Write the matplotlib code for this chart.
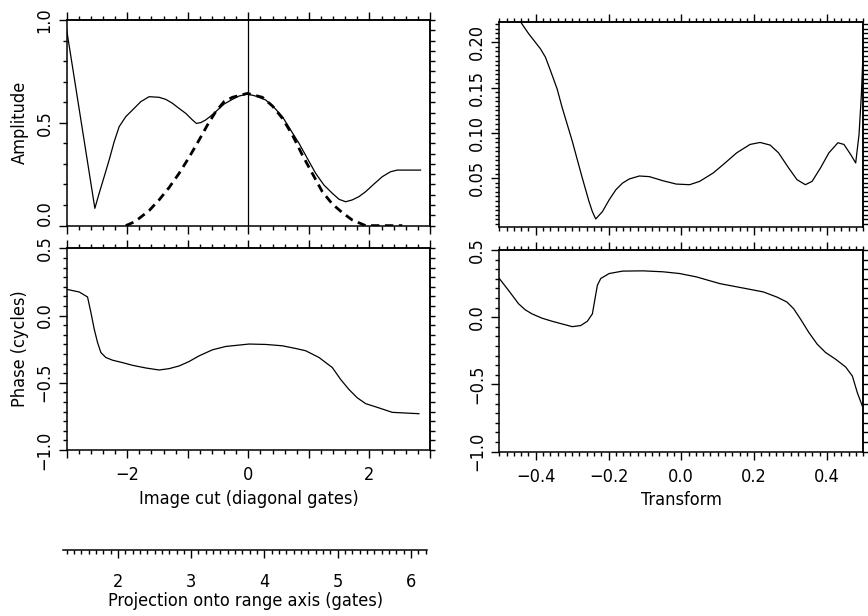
import numpy as np
import matplotlib
matplotlib.use("Agg")
import matplotlib.pyplot as plt
from matplotlib import font_manager
from matplotlib.ticker import MultipleLocator, FixedLocator, NullFormatter

# pick a narrow sans if one is installed (the original uses a condensed face)
_fonts = font_manager.fontManager.ttflist
_names = {f.name for f in _fonts}
if 'Liberation Sans Narrow' in _names:
    plt.rcParams['font.family'] = ['Liberation Sans Narrow', 'DejaVu Sans']
elif any(f.name == 'DejaVu Sans' and 'condensed' in str(f.stretch) for f in _fonts):
    plt.rcParams['font.family'] = ['DejaVu Sans']
    plt.rcParams['font.stretch'] = 'condensed'
elif 'Roboto' in _names:
    plt.rcParams['font.family'] = ['Roboto', 'DejaVu Sans']
    plt.rcParams['font.weight'] = 'medium'
plt.rcParams['font.size'] = 13

# === Image cut: amplitude (solid) ===
cut_x = [-3.0, -2.535, -2.464, -2.381, -2.299, -2.216, -2.134, -2.024, -1.914, -1.776,
         -1.639, -1.474, -1.364, -1.254, -1.144, -1.034, -0.924, -0.858, -0.786, -0.704,
         -0.621, -0.539, -0.401, -0.264, -0.154, -0.016, 0.122, 0.287, 0.424, 0.562,
         0.699, 0.837, 0.974, 1.112, 1.249, 1.387, 1.497, 1.607, 1.717, 1.827, 1.937,
         2.074, 2.212, 2.349, 2.459, 2.844]
cut_amp = [0.951, 0.084, 0.157, 0.238, 0.319, 0.408, 0.481, 0.530, 0.562, 0.603,
           0.627, 0.624, 0.614, 0.595, 0.570, 0.546, 0.514, 0.497, 0.501, 0.514,
           0.533, 0.554, 0.591, 0.614, 0.630, 0.640, 0.630, 0.611, 0.575, 0.530,
           0.465, 0.400, 0.327, 0.254, 0.197, 0.157, 0.128, 0.116, 0.125, 0.141, 0.165,
           0.202, 0.238, 0.262, 0.270, 0.270]

# === Image cut: reference lobe (dashed) ===
ref_x = [-2.024, -1.914, -1.804, -1.639, -1.474, -1.309, -1.144, -0.979, -0.814, -0.676,
         -0.539, -0.401, -0.264, -0.016, 0.232, 0.397, 0.562, 0.727, 0.892, 1.056,
         1.221, 1.387, 1.552, 1.717, 1.937, 2.542]
ref_amp = [0.0, 0.014, 0.035, 0.073, 0.125, 0.185, 0.254, 0.332, 0.416, 0.489,
           0.554, 0.603, 0.624, 0.643, 0.624, 0.582, 0.522, 0.441, 0.343, 0.254,
           0.165, 0.105, 0.063, 0.027, 0.0, 0.0]

# === Image cut: phase (cycles) ===
phase_x = [-3.0, -2.793, -2.656, -2.601, -2.546, -2.491, -2.436, -2.354, -2.244, -2.079,
           -1.914, -1.694, -1.474, -1.309, -1.144, -0.979, -0.814, -0.594, -0.374, 0.012,
           0.287, 0.562, 0.782, 0.947, 1.167, 1.387, 1.524, 1.662, 1.799, 1.937,
           2.157, 2.377, 2.817]
phase_y = [0.195, 0.175, 0.138, 0.025, -0.100, -0.200, -0.275, -0.312, -0.332, -0.350,
           -0.370, -0.390, -0.405, -0.395, -0.375, -0.342, -0.300, -0.255, -0.230, -0.212,
           -0.215, -0.225, -0.245, -0.262, -0.312, -0.387, -0.475, -0.550, -0.612, -0.655,
           -0.687, -0.720, -0.730]

# === Transform: amplitude ===
tr_x = [-0.50, -0.4397, -0.4194, -0.3871, -0.3733, -0.3594, -0.341, -0.3273, -0.3134,
        -0.2996, -0.2858, -0.272, -0.2535, -0.2443, -0.2351, -0.2167, -0.1982, -0.1798,
        -0.1614, -0.1429, -0.1153, -0.0876, -0.0508, -0.0139, 0.0229, 0.0506, 0.0875,
        0.1151, 0.152, 0.1888, 0.2165, 0.2442, 0.2672, 0.2948, 0.3179, 0.3409, 0.3593,
        0.3824, 0.4054, 0.4303, 0.4469, 0.4653, 0.4791, 0.4883, 0.4948, 0.50]
tr_amp = [0.262, 0.2215, 0.2096, 0.193, 0.1837, 0.1689, 0.1485, 0.1281, 0.1096,
          0.0911, 0.0707, 0.0504, 0.0244, 0.0133, 0.0052, 0.0133, 0.0263, 0.0374,
          0.0448, 0.0493, 0.0526, 0.0519, 0.0474, 0.0437, 0.043, 0.0467, 0.0559,
          0.0652, 0.0781, 0.0874, 0.0896, 0.0867, 0.0781, 0.0615, 0.0485, 0.043, 0.0467,
          0.0615, 0.0781, 0.0893, 0.0874, 0.0763, 0.067, 0.0985, 0.143, 0.1948]

# === Transform: phase (cycles) ===
trp_x = [-0.50, -0.4747, -0.447, -0.4286, -0.4102, -0.3826, -0.3549, -0.3273, -0.2996,
         -0.2766, -0.2581, -0.2443, -0.2379, -0.2305, -0.2213, -0.1982, -0.1614, -0.106,
         -0.0508, -0.0047, 0.0414, 0.1059, 0.1797, 0.2257, 0.2626, 0.2902, 0.3087,
         0.3271, 0.3501, 0.3732, 0.3962, 0.4238, 0.4515, 0.4699, 0.4837, 0.4976]
trp_y = [0.288, 0.200, 0.100, 0.055, 0.025, -0.007, -0.030, -0.050, -0.070,
         -0.062, -0.030, 0.025, 0.125, 0.238, 0.288, 0.325, 0.343, 0.345,
         0.338, 0.325, 0.300, 0.250, 0.212, 0.188, 0.150, 0.113, 0.063,
         -0.012, -0.112, -0.200, -0.262, -0.312, -0.370, -0.437, -0.562, -0.662]

W, H = 868, 616
MAJ_LEN, MIN_LEN = 5.5, 3.0
LINE = dict(color='black', lw=0.9)


def frac(x0, y_top, x1, y_bot):
    """Pixel box -> figure fraction rect."""
    return [x0 / W, 1 - y_bot / H, (x1 - x0) / W, (y_bot - y_top) / H]


def style_axes(ax, x_major, x_minor, y_major, y_minor, y_right, x_labels=True):
    for sp in ax.spines.values():
        sp.set_linewidth(1.1)
    ax.xaxis.set_major_locator(MultipleLocator(x_major))
    ax.xaxis.set_minor_locator(MultipleLocator(x_minor))
    ax.yaxis.set_major_locator(FixedLocator(y_major))
    ax.yaxis.set_minor_locator(FixedLocator(y_minor))
    ax.tick_params(which='both', direction='out', width=1.0, top=False, right=False)
    ax.tick_params(which='major', length=MAJ_LEN)
    ax.tick_params(which='minor', length=MIN_LEN)
    ax.tick_params(axis='y', pad=4)
    ax.tick_params(axis='x', pad=6)
    if not x_labels:
        ax.xaxis.set_major_formatter(NullFormatter())
    # ticks along the top spine
    top = ax.secondary_xaxis('top')
    top.xaxis.set_major_locator(MultipleLocator(x_major))
    top.xaxis.set_minor_locator(MultipleLocator(x_minor))
    top.xaxis.set_major_formatter(NullFormatter())
    top.tick_params(which='both', direction='out', width=1.0)
    top.tick_params(which='major', length=MAJ_LEN)
    top.tick_params(which='minor', length=MIN_LEN)
    top.spines['top'].set_linewidth(1.1)
    # ticks along the right spine (own spacing)
    right = ax.secondary_yaxis('right')
    right.yaxis.set_major_locator(FixedLocator(y_right))
    right.yaxis.set_major_formatter(NullFormatter())
    right.tick_params(which='both', direction='out', width=1.0, length=MIN_LEN + 0.5)
    right.spines['right'].set_linewidth(1.1)


def y_labels(ax, ticks, texts, bottom_aligned=()):
    ax.set_yticks(ticks)
    labs = ax.set_yticklabels(texts, rotation=90, va='center')
    for i in bottom_aligned:
        labs[i].set_va('bottom')


fig = plt.figure(figsize=(8.68, 6.16), dpi=100)

phase_ticks = [-1.0, -0.5, 0.0, 0.5]
phase_texts = ['\u22121.0', '\u22120.5', '0.0', '0.5']
phase_minor = list(np.linspace(-1.0, 0.5, 22))

# --- top left: amplitude of image cut ---
ax1 = fig.add_axes(frac(66.7, 20.0, 430.0, 225.6))
ax1.plot(cut_x, cut_amp, **LINE)
ax1.plot(ref_x, ref_amp, color='black', lw=2.0, dashes=(3, 2))
ax1.axvline(0, **LINE)
ax1.set_xlim(-3, 3)
ax1.set_ylim(0, 1)
style_axes(ax1, 1, 0.2, [0.0, 0.5, 1.0], list(np.arange(0, 1.01, 0.1)),
           list(np.arange(0, 1.001, 0.05)), x_labels=False)
y_labels(ax1, [0.0, 0.5, 1.0], ['0.0', '0.5', '1.0'], bottom_aligned=(0,))
ax1.set_ylabel('Amplitude', labelpad=5)

# --- bottom left: phase of image cut ---
ax2 = fig.add_axes(frac(66.7, 248.3, 430.0, 450.0))
ax2.plot(phase_x, phase_y, **LINE)
ax2.set_xlim(-3, 3)
ax2.set_ylim(-1.0, 0.5)
style_axes(ax2, 1, 0.2, phase_ticks, phase_minor, phase_minor)
y_labels(ax2, phase_ticks, phase_texts)
ax2.set_xticks([-3, -2, -1, 0, 1, 2, 3])
ax2.set_xticklabels(['', '\u22122', '', '0', '', '2', ''])
ax2.set_ylabel('Phase (cycles)', labelpad=5)
ax2.set_xlabel('Image cut (diagonal gates)', labelpad=4)

# --- top right: amplitude of transform ---
ax3 = fig.add_axes(frac(499.3, 22.0, 863.3, 227.3))
ax3.plot(tr_x, tr_amp, **LINE)
ax3.set_xlim(-0.5, 0.5)
ax3.set_ylim(-0.004, 0.2225)
tr_minor = list(np.arange(0, 0.2226, 0.005))
style_axes(ax3, 0.2, 0.02, [0.05, 0.10, 0.15, 0.20], tr_minor, tr_minor, x_labels=False)
y_labels(ax3, [0.05, 0.10, 0.15, 0.20], ['0.05', '0.10', '0.15', '0.20'])

# --- bottom right: phase of transform ---
ax4 = fig.add_axes(frac(499.3, 250.0, 863.3, 451.7))
ax4.plot(trp_x, trp_y, **LINE)
ax4.set_xlim(-0.5, 0.5)
ax4.set_ylim(-1.0, 0.5)
style_axes(ax4, 0.2, 0.02, phase_ticks, phase_minor, phase_minor)
y_labels(ax4, phase_ticks, phase_texts)
ax4.set_xticks([-0.4, -0.2, 0.0, 0.2, 0.4])
ax4.set_xticklabels(['\u22120.4', '\u22120.2', '0.0', '0.2', '0.4'])
ax4.set_xlabel('Transform', labelpad=4)

# --- projection axis below the image cut ---
ax5 = fig.add_axes([63 / W, 1 - 550 / H, (427 - 63) / W, 0.001])
for side in ['top', 'left', 'right']:
    ax5.spines[side].set_visible(False)
ax5.spines['bottom'].set_linewidth(1.1)
ax5.set_yticks([])
ax5.set_xlim(1.25, 6.22)
ax5.xaxis.set_major_locator(MultipleLocator(1))
ax5.xaxis.set_minor_locator(MultipleLocator(0.1))
ax5.tick_params(which='both', direction='out', width=1.0, pad=11)
ax5.tick_params(which='major', length=MAJ_LEN)
ax5.tick_params(which='minor', length=MIN_LEN)
ax5.set_xlabel('Projection onto range axis (gates)', labelpad=1)
ax5.patch.set_visible(False)

fig.savefig('out.png', dpi=100)
